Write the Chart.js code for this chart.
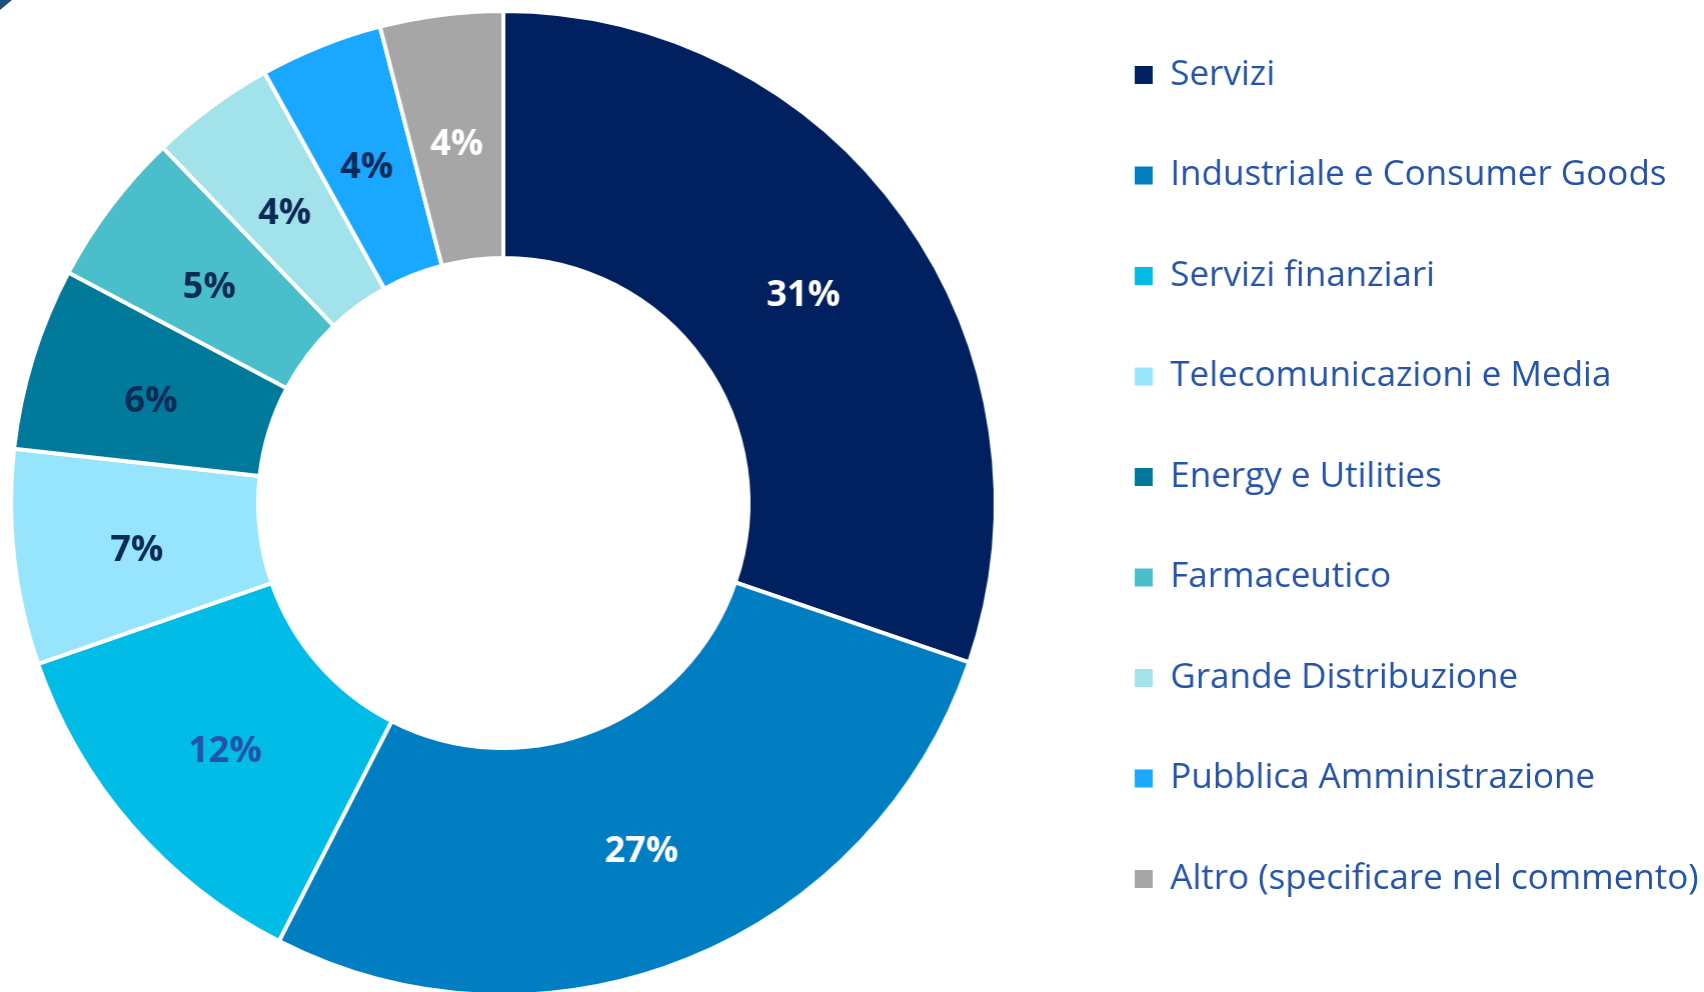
<!DOCTYPE html>
<html lang="it">
<head>
<meta charset="utf-8">
<title>Settore</title>
<script src="https://cdn.jsdelivr.net/npm/chart.js@4/dist/chart.umd.min.js"></script>
<style>
  html, body { margin: 0; padding: 0; background: #fff; overflow: hidden; }
  body { width: 1704px; height: 992px; position: relative; }
  /* doughnut centre and legend column are placed by shifting the canvas box */
  #wrap { position: absolute; left: -64px; top: -8px; height: 1022px; }
  .corner { position: absolute; left: 0; top: 0; width: 0; height: 0;
    border-top: 10px solid #1f4e79; border-right: 12px solid transparent; }
</style>
</head>
<body>
<div id="wrap"><canvas id="chart"></canvas></div>
<div class="corner"></div>
<script>
const sectors = [
  'Servizi',
  'Industriale e Consumer Goods',
  'Servizi finanziari',
  'Telecomunicazioni e Media',
  'Energy e Utilities',
  'Farmaceutico',
  'Grande Distribuzione',
  'Pubblica Amministrazione',
  'Altro (specificare nel commento)'
];
const shares = [30.25, 27.28, 12.17, 7.06, 6.00, 5.09, 4.09, 4.03, 4.03];
const shareLabels = ['31%', '27%', '12%', '7%', '6%', '5%', '4%', '4%', '4%'];

const sliceColors = ['#002060', '#007ec1', '#00bce6', '#97e5fd', '#00799b',
  '#4abfcb', '#a2e2ea', '#19a7ff', '#a6a6a6'];
const labelColors = ['#ffffff', '#ffffff', '#2453a8', '#0c2a57', '#0c2a57',
  '#0c2a57', '#0c2a57', '#0c2a57', '#ffffff'];
const legendText = '#2453a8';

const fontFamily = "'Open Sans', 'Noto Sans', sans-serif";
Chart.defaults.font.family = fontFamily;

const legendFont = 35, legendBox = 18, legendPad = 65.5;

// legend width = padding + box + half font + longest text + 10 (Chart.js fit)
const measure = document.createElement('canvas').getContext('2d');
measure.font = legendFont + 'px ' + fontFamily;
const longest = Math.max(...sectors.map(s => measure.measureText(s).width));
const legendWidth = legendPad + legendBox + legendFont / 2 + longest + 10;
document.getElementById('wrap').style.width = (1132.5 + legendWidth) + 'px';

// percentage text in the middle of each ring segment
const sliceLabels = {
  id: 'sliceLabels',
  afterDatasetsDraw(chart) {
    const ctx = chart.ctx;
    const meta = chart.getDatasetMeta(0);
    ctx.save();
    ctx.font = 'bold 36px ' + fontFamily;
    ctx.textAlign = 'center';
    ctx.textBaseline = 'middle';
    meta.data.forEach((arc, i) => {
      const p = arc.getCenterPoint();
      ctx.fillStyle = labelColors[i];
      ctx.fillText(shareLabels[i], p.x, p.y + 7);
    });
    ctx.restore();
  }
};

const baseLabels = Chart.overrides.doughnut.plugins.legend.labels.generateLabels;

new Chart(document.getElementById('chart'), {
  type: 'doughnut',
  data: {
    labels: sectors,
    datasets: [{
      data: shares,
      backgroundColor: sliceColors,
      borderColor: '#ffffff',
      borderWidth: 4,
      radius: 492,
      cutout: '49.8%',
    }],
  },
  options: {
    responsive: true,
    maintainAspectRatio: false,
    animation: false,
    layout: { padding: { left: 1.5, top: 0, bottom: 0, right: 0 } },
    plugins: {
      tooltip: { enabled: false },
      legend: {
        position: 'right',
        align: 'start',
        labels: {
          boxWidth: legendBox,
          boxHeight: legendBox,
          padding: legendPad,
          color: legendText,
          font: { size: legendFont },
          generateLabels: (chart) => baseLabels(chart).map(item => ({ ...item, lineWidth: 0 })),
        },
      },
    },
  },
  plugins: [sliceLabels],
});
</script>
</body>
</html>
